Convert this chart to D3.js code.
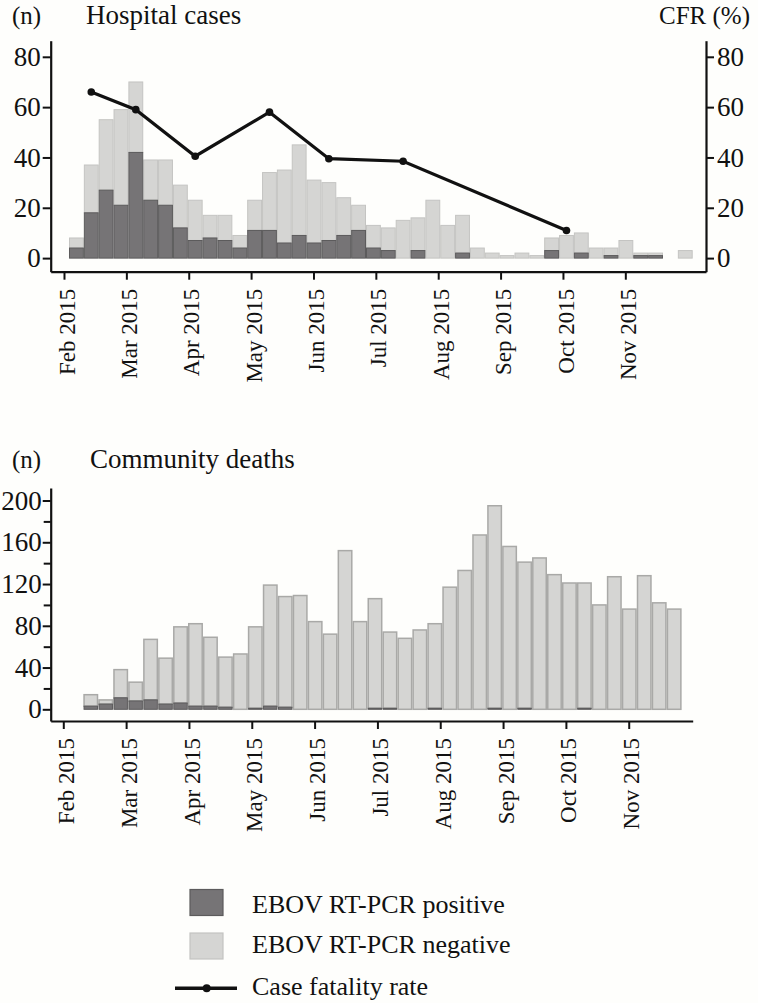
<!DOCTYPE html>
<html>
<head>
<meta charset="utf-8">
<script src="https://cdn.jsdelivr.net/npm/d3@7"></script>
<style>
  html, body { margin: 0; padding: 0; background: #fefefc; }
  svg { display: block; }
</style>
</head>
<body>
<svg id="chart" width="758" height="1003"></svg>
<script>
// ---------- DATA ----------
const monthLabels = ["Feb 2015","Mar 2015","Apr 2015","May 2015","Jun 2015","Jul 2015","Aug 2015","Sep 2015","Oct 2015","Nov 2015"];

// Hospital cases, weekly (week index 0..41)
const hospitalTotal    = [8,37,55,59,70,39,39,29,23,17,17,9,23,34,35,45,31,30,24,21,13,12,15,16,23,13,17,4,2,1,2,1,8,9,10,4,4,7,2,2,0,3];
const hospitalPositive = [4,18,27,21,42,23,21,12,7,8,7,4,11,11,6,9,6,7,9,11,4,3,0,3,0,0,2,0,0,0,0,0,3,0,2,0,1,0,1,1,0,0];

// Case fatality rate (%) at week index
const cfrWeeks  = [1,4,8,13,17,22,33];
const cfrValues = [66,59,40.5,58,39.5,38.5,11];

// Community deaths, weekly (week index 1..40)
const communityWeeks    = d3.range(1, 41);
const communityTotal    = [14,9,38,26,67,49,79,82,69,50,53,79,119,108,109,84,72,152,84,106,74,68,76,82,117,133,167,195,156,141,145,129,121,121,100,127,96,128,102,96];
const communityPositive = [3,5,11,8,9,5,6,3,3,2,0,1,3,2,0,0,0,0,0,1,1,0,0,1,0,0,0,1,0,1,0,0,0,1,0,0,0,0,0,0];

const hospitalTicks  = [0,20,40,60,80];
const cfrTicks       = [0,20,40,60,80];
const communityTicks = [0,40,80,120,160,200];
const communityMinor = [20,60,100,140,180];

const legendLabels = ["EBOV RT-PCR positive","EBOV RT-PCR negative","Case fatality rate"];

// ---------- STYLE / LAYOUT ----------
const FONT = '"Liberation Serif", "Times New Roman", serif';
const darkFill = "#767476", darkStroke = "#5c5b5c";
const lightFill = "#d5d5d3";
const weeksPerMonth = 4.2, tickOffset = -0.337;

const svg = d3.select("#chart");

function txt(sel, size) {
  return sel.style("font-family", FONT).style("font-size", size + "px").attr("fill", "#111");
}

function monthTickWeeks() { return monthLabels.map((m, i) => tickOffset + i * weeksPerMonth); }

function drawXAxis(g, x, yAxis) {
  const ax = g.append("g").attr("transform", `translate(0,${yAxis})`)
    .call(d3.axisBottom(x).tickValues(monthTickWeeks()).tickSize(8).tickSizeOuter(0).tickFormat(""));
  ax.select(".domain").attr("stroke", "#111").attr("stroke-width", 2.2);
  ax.selectAll(".tick line").attr("stroke", "#111").attr("stroke-width", 2);
  g.selectAll(".mlabel").data(monthLabels).join("text")
    .attr("class", "mlabel")
    .attr("transform", (d, i) => `translate(${x(tickOffset + i * weeksPerMonth)},${yAxis + 17}) rotate(-90)`)
    .attr("text-anchor", "end")
    .attr("dy", "0.46em")
    .call(txt, 23)
    .text(d => d);
}

function styleYAxis(ax) {
  ax.select(".domain").attr("stroke", "#111").attr("stroke-width", 2.2);
  ax.selectAll(".tick line").attr("stroke", "#111").attr("stroke-width", 2);
  ax.selectAll(".tick text").call(txt, 27);
}

// ---------- TOP: Hospital cases ----------
{
  const g = svg.append("g");
  const x = d3.scaleLinear().domain([-1.232, 42.896]).range([50.7, 706]);
  const y = d3.scaleLinear().domain([-5.4, 86.4]).range([271.7, 40.7]);

  const rows = hospitalTotal.map((t, i) => ({ week: i, positive: hospitalPositive[i], negative: t - hospitalPositive[i] }));
  const stacked = d3.stack().keys(["positive", "negative"])(rows);

  g.append("g").selectAll("rect").data(stacked[1].filter(d => d[1] > d[0])).join("rect")
    .attr("x", d => x(d.data.week) + 0.5)
    .attr("width", d => x(d.data.week + 1) - x(d.data.week) - 1)
    .attr("y", d => y(d[1]))
    .attr("height", d => y(d[0]) - y(d[1]))
    .attr("fill", lightFill).attr("stroke", "#c4c4c2").attr("stroke-width", 1);
  g.append("g").selectAll("rect").data(stacked[0].filter(d => d[1] > d[0])).join("rect")
    .attr("x", d => x(d.data.week) + 0.5)
    .attr("width", d => x(d.data.week + 1) - x(d.data.week) - 1)
    .attr("y", d => y(d[1]))
    .attr("height", d => y(d[0]) - y(d[1]))
    .attr("fill", darkFill).attr("stroke", darkStroke).attr("stroke-width", 1);

  const cfr = cfrWeeks.map((w, i) => ({ w, v: cfrValues[i] }));
  g.append("path").datum(cfr)
    .attr("d", d3.line().x(d => x(d.w + 0.5)).y(d => y(d.v)))
    .attr("fill", "none").attr("stroke", "#111").attr("stroke-width", 3.2);
  g.selectAll(".cfrdot").data(cfr).join("circle")
    .attr("class", "cfrdot")
    .attr("cx", d => x(d.w + 0.5)).attr("cy", d => y(d.v)).attr("r", 3.8).attr("fill", "#111");

  const yl = g.append("g").attr("transform", "translate(50.7,0)")
    .call(d3.axisLeft(y).tickValues(hospitalTicks).tickSize(8).tickPadding(2).tickSizeOuter(0));
  styleYAxis(yl);
  const yr = g.append("g").attr("transform", "translate(706,0)")
    .call(d3.axisRight(y).tickValues(cfrTicks).tickSize(8).tickPadding(3).tickSizeOuter(0));
  styleYAxis(yr);
  drawXAxis(g, x, 271.7);

  g.append("text").attr("x", 12).attr("y", 24).call(txt, 25).text("(n)");
  g.append("text").attr("x", 86).attr("y", 24).call(txt, 27).text("Hospital cases");
  g.append("text").attr("x", 750).attr("y", 24).attr("text-anchor", "end").call(txt, 25).text("CFR (%)");
}

// ---------- BOTTOM: Community deaths ----------
{
  const g = svg.append("g");
  const x = d3.scaleLinear().domain([-1.179, 41.74]).range([50.7, 692.7]);
  const y = d3.scaleLinear().domain([-11.2, 212]).range([721, 488]);

  const rows = communityTotal.map((t, i) => ({ week: communityWeeks[i], positive: communityPositive[i], negative: t - communityPositive[i] }));
  const stacked = d3.stack().keys(["positive", "negative"])(rows);

  g.append("g").selectAll("rect").data(stacked[1].filter(d => d[1] > d[0])).join("rect")
    .attr("x", d => x(d.data.week) + 0.75)
    .attr("width", d => x(d.data.week + 1) - x(d.data.week) - 1.5)
    .attr("y", d => y(d[1]))
    .attr("height", d => y(d[0]) - y(d[1]))
    .attr("fill", lightFill).attr("stroke", "#a9a9a7").attr("stroke-width", 1.5);
  g.append("g").selectAll("rect").data(stacked[0].filter(d => d[1] > d[0])).join("rect")
    .attr("x", d => x(d.data.week) + 0.75)
    .attr("width", d => x(d.data.week + 1) - x(d.data.week) - 1.5)
    .attr("y", d => y(d[1]))
    .attr("height", d => y(d[0]) - y(d[1]))
    .attr("fill", darkFill).attr("stroke", darkStroke).attr("stroke-width", 1);

  const yl = g.append("g").attr("transform", "translate(50.7,0)")
    .call(d3.axisLeft(y).tickValues(communityTicks).tickSize(8).tickPadding(1).tickSizeOuter(0));
  styleYAxis(yl);
  const ym = g.append("g").attr("transform", "translate(50.7,0)")
    .call(d3.axisLeft(y).tickValues(communityMinor).tickSize(7).tickFormat("").tickSizeOuter(0));
  ym.select(".domain").remove();
  ym.selectAll(".tick line").attr("stroke", "#111").attr("stroke-width", 2);

  drawXAxis(g, x, 721);

  g.append("text").attr("x", 12).attr("y", 468).call(txt, 25).text("(n)");
  g.append("text").attr("x", 90).attr("y", 468).call(txt, 27).text("Community deaths");
}

// ---------- LEGEND ----------
{
  const g = svg.append("g");
  g.append("rect").attr("x", 190).attr("y", 889.5).attr("width", 33).attr("height", 26)
    .attr("fill", darkFill).attr("stroke", darkStroke).attr("stroke-width", 1.2);
  g.append("rect").attr("x", 190).attr("y", 933).attr("width", 33).attr("height", 26)
    .attr("fill", lightFill).attr("stroke", "#c4c4c2").attr("stroke-width", 1.2);
  g.append("line").attr("x1", 175).attr("x2", 237).attr("y1", 988.3).attr("y2", 988.3)
    .attr("stroke", "#111").attr("stroke-width", 3.5);
  g.append("circle").attr("cx", 206.7).attr("cy", 988.3).attr("r", 4).attr("fill", "#111");
  g.selectAll(".leg").data(legendLabels).join("text")
    .attr("class", "leg")
    .attr("x", 252)
    .attr("y", (d, i) => [913, 953.3, 995][i])
    .call(txt, 26)
    .text(d => d);
}
</script>
</body>
</html>
